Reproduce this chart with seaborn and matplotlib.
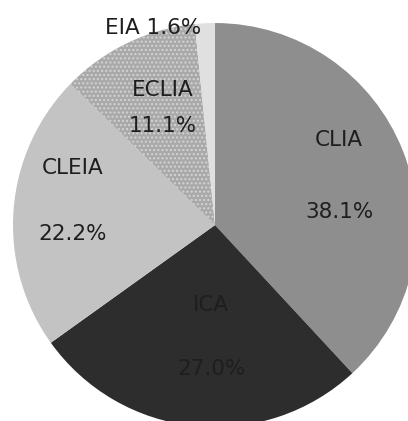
import numpy as np
import matplotlib
matplotlib.use("Agg")
import matplotlib.pyplot as plt
import seaborn as sns

methods = ["CLIA", "ICA", "CLEIA", "ECLIA", "EIA"]
shares = [38.1, 27.0, 22.2, 11.1, 1.6]
colors = ["#8e8e8e", "#2d2d2d", "#c3c3c3", "#a9a9a9", "#e0e0e0"]

sns.set_theme(style="white")
plt.rcParams["font.family"] = ["DejaVu Sans"]
plt.rcParams["savefig.bbox"] = None

fig = plt.figure(figsize=(4.08, 4.21), dpi=100)
ax = fig.add_axes([0, 0, 1, 1])

wedges, _ = ax.pie(shares, colors=colors, startangle=90, counterclock=False,
                   radius=1.0, wedgeprops=dict(linewidth=0))
for w in wedges:
    w.set_clip_on(True)  # pie runs off the right and bottom edges

# dotted texture on ECLIA
wedges[3].set_hatch("....")
wedges[3].set_edgecolor("#d4d4d4")
wedges[3].set_linewidth(0)

# label radius / angle nudge per slice, and gap between name and value
label_r = [0.66, 0.555, 0.715, 0.635]
label_dang = [0.0, 3.8, -5.2, -1.8]
label_gap = [0.356, 0.32, 0.33, 0.178]
for w, name, val, r, da, gap in zip(wedges, methods, shares, label_r, label_dang, label_gap):
    ang = np.deg2rad((w.theta1 + w.theta2) / 2 + da)
    cx, cy = r * np.cos(ang), r * np.sin(ang)
    ax.text(cx, cy + gap / 2, name, ha="center", va="center",
            fontsize=15.5, color="#1e1e1e")
    ax.text(cx, cy - gap / 2, f"{val:.1f}%", ha="center", va="center",
            fontsize=15.5, color="#1e1e1e")

# small slice labelled outside, left of the wedge
ax.text(-0.07, 0.975, f"{methods[4]} {shares[4]:.1f}%", ha="right", va="center",
        fontsize=15.5, color="#1e1e1e")

ax.set_xlim(-1.064, 0.955)
ax.set_ylim(-0.970, 1.114)
ax.set_aspect("equal")
ax.axis("off")

fig.savefig("out.png", dpi=100, facecolor="white", bbox_inches=None)
